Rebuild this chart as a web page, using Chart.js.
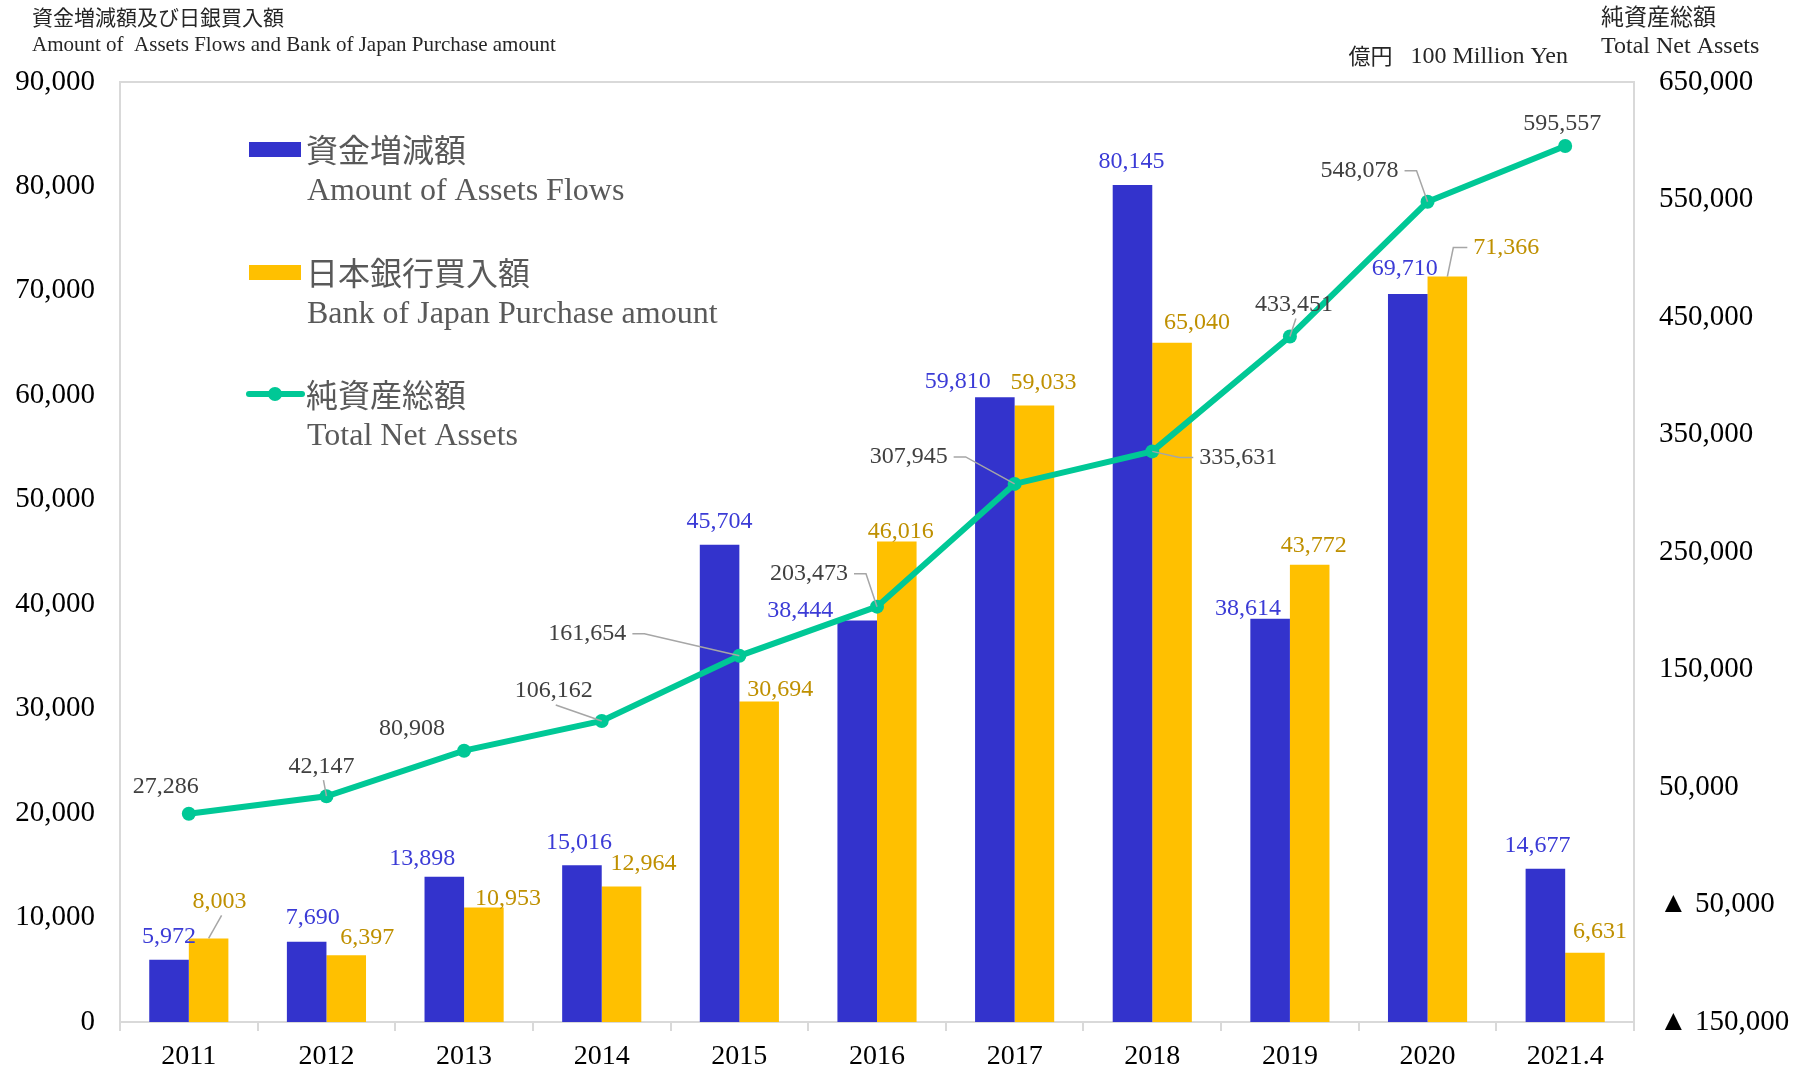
<!DOCTYPE html>
<html>
<head>
<meta charset="utf-8">
<script src="https://cdn.jsdelivr.net/npm/chart.js@4.4.1/dist/chart.umd.min.js"></script>
<style>
  html, body { margin: 0; padding: 0; background: #fff; }
  #wrap { width: 1805px; height: 1072px; }
</style>
</head>
<body>
<div id="wrap"><canvas id="chart" width="1805" height="1072"></canvas></div>
<script>
// data (100 million yen)
const categories = ['2011', '2012', '2013', '2014', '2015', '2016', '2017', '2018', '2019', '2020', '2021.4'];
const assetFlows = [5972, 7690, 13898, 15016, 45704, 38444, 59810, 80145, 38614, 69710, 14677];
const bojPurchase = [8003, 6397, 10953, 12964, 30694, 46016, 59033, 65040, 43772, 71366, 6631];
const netAssets = [27286, 42147, 80908, 106162, 161654, 203473, 307945, 335631, 433451, 548078, 595557];

const leftTicks = { min: 0, max: 90000, step: 10000 };
const rightTicks = { min: -150000, max: 650000, step: 100000 };

const SERIF = '"Liberation Serif", "Times New Roman", serif';
const CJK = '"Noto Sans CJK JP", "Noto Sans", sans-serif';
const BLUE = '#3333cc';
const GOLD = '#ffc000';
const GREEN = '#00c896';
const GRID = '#d9d9d9';

// where each value label sits relative to its mark: [dx, dy, leader]
const flowLabelPos = [[0,-25],[6,-26],[-22,-20],[-3,-24],[0,-25],[-57,-12],[-37,-18],[-1,-25],[-22,-12],[-3,-27],[-8,-25]];
const bojLabelPos = [[11,-39,'b'],[21,-19],[24,-11],[22,-25],[21,-14],[4,-12],[9,-25],[25,-22],[4,-21],[59,-31,'l'],[15,-23]];
const netLabelPos = [[-23,-29],[-5,-32,'b'],[-52,-24],[-48,-32,'b'],[-152,-24,'r'],[-68,-35,'r'],[-106,-29,'r'],[86,4,'l'],[4,-34,'b'],[-68,-33,'r'],[-3,-24]];
const LABEL_SHIFT = 2;

const fmt = v => v.toLocaleString('en-US');

function drawLeader(ctx, px, py, lx, ly, w, h, type) {
  ctx.beginPath();
  if (type === 'r') {
    ctx.moveTo(lx + w / 2 + 6, ly);
    ctx.lineTo(lx + w / 2 + 18, ly);
    ctx.lineTo(px, py);
  } else if (type === 'l') {
    ctx.moveTo(px, py);
    ctx.lineTo(lx - w / 2 - 20, ly);
    ctx.lineTo(lx - w / 2 - 6, ly);
  } else {
    ctx.moveTo(lx + 2, ly + h / 2 + 2);
    ctx.lineTo(px, py);
  }
  ctx.stroke();
}

const valueLabels = {
  id: 'valueLabels',
  afterDatasetsDraw(chart) {
    const ctx = chart.ctx;
    const sets = [
      { idx: 1, values: assetFlows, pos: flowLabelPos, color: '#3b3bd6' },
      { idx: 2, values: bojPurchase, pos: bojLabelPos, color: '#bf9000' },
      { idx: 0, values: netAssets, pos: netLabelPos, color: '#404040' }
    ];
    ctx.save();
    ctx.font = '24px ' + SERIF;
    ctx.textAlign = 'center';
    ctx.textBaseline = 'middle';
    ctx.strokeStyle = '#a6a6a6';
    ctx.lineWidth = 1.5;
    sets.forEach(s => {
      const meta = chart.getDatasetMeta(s.idx);
      meta.data.forEach((el, i) => {
        const [dx, dy, leader] = s.pos[i];
        const lx = el.x + dx, ly = el.y + dy + LABEL_SHIFT;
        const text = fmt(s.values[i]);
        if (leader) {
          const w = ctx.measureText(text).width;
          drawLeader(ctx, el.x, el.y, lx, ly, w, 24, leader);
        }
        ctx.fillStyle = s.color;
        ctx.fillText(text, lx, ly);
      });
    });
    ctx.restore();
  }
};

const frameAndText = {
  id: 'frameAndText',
  afterDraw(chart) {
    const ctx = chart.ctx;
    const a = chart.chartArea;
    ctx.save();
    // top edge of the plot frame
    ctx.strokeStyle = GRID;
    ctx.lineWidth = 2;
    ctx.beginPath();
    ctx.moveTo(a.left, a.top);
    ctx.lineTo(a.right, a.top);
    ctx.stroke();

    ctx.textBaseline = 'middle';
    // titles
    ctx.fillStyle = '#262626';
    ctx.textAlign = 'left';
    ctx.font = '21px ' + CJK;
    ctx.fillText('資金増減額及び日銀買入額', 32, 17);
    ctx.font = '21px ' + SERIF;
    ctx.fillText('Amount of  Assets Flows and Bank of Japan Purchase amount', 32, 45);

    ctx.font = '23px ' + CJK;
    ctx.fillText('純資産総額', 1601, 16);
    ctx.font = '24px ' + SERIF;
    ctx.fillText('Total Net Assets', 1601, 47);

    ctx.textAlign = 'right';
    ctx.font = '24px ' + SERIF;
    ctx.fillText('100 Million Yen', 1568, 57);
    const w = ctx.measureText('100 Million Yen').width;
    ctx.font = '22px ' + CJK;
    ctx.fillText('億円', 1568 - w - 18, 56);

    // legend
    ctx.textAlign = 'left';
    ctx.fillStyle = BLUE;
    ctx.fillRect(249, 142, 52, 15);
    ctx.fillStyle = GOLD;
    ctx.fillRect(249, 265, 52, 15);
    ctx.strokeStyle = GREEN;
    ctx.lineWidth = 6;
    ctx.lineCap = 'round';
    ctx.beginPath();
    ctx.moveTo(249, 394);
    ctx.lineTo(302, 394);
    ctx.stroke();
    ctx.fillStyle = GREEN;
    ctx.beginPath();
    ctx.arc(275, 394, 7, 0, Math.PI * 2);
    ctx.fill();

    ctx.fillStyle = '#595959';
    const rows = [
      ['資金増減額', 'Amount of Assets Flows', 150, 192],
      ['日本銀行買入額', 'Bank of Japan Purchase amount', 273, 315],
      ['純資産総額', 'Total Net Assets', 395, 437]
    ];
    rows.forEach(r => {
      ctx.font = '32px ' + CJK;
      ctx.fillText(r[0], 306, r[2]);
      ctx.font = '32px ' + SERIF;
      ctx.fillText(r[1], 307, r[3]);
    });
    ctx.restore();
  }
};

new Chart(document.getElementById('chart'), {
  type: 'bar',
  data: {
    labels: categories,
    datasets: [
      {
        type: 'line',
        label: '純資産総額',
        data: netAssets,
        yAxisID: 'y1',
        borderColor: GREEN,
        backgroundColor: GREEN,
        borderWidth: 6,
        pointRadius: 7,
        pointBorderWidth: 0,
        pointBackgroundColor: GREEN,
        tension: 0,
        order: 0
      },
      {
        label: '資金増減額',
        data: assetFlows,
        yAxisID: 'y',
        backgroundColor: BLUE,
        borderWidth: 0,
        categoryPercentage: 0.575,
        barPercentage: 1.0,
        order: 1
      },
      {
        label: '日本銀行買入額',
        data: bojPurchase,
        yAxisID: 'y',
        backgroundColor: GOLD,
        borderWidth: 0,
        categoryPercentage: 0.575,
        barPercentage: 1.0,
        order: 1
      }
    ]
  },
  options: {
    responsive: false,
    animation: false,
    layout: { padding: { top: 82, left: 0, right: 0, bottom: 0 } },
    plugins: { legend: { display: false }, tooltip: { enabled: false } },
    scales: {
      x: {
        offset: true,
        grid: { display: true, drawOnChartArea: false, drawTicks: true, tickLength: 9, color: GRID, lineWidth: 2 },
        border: { display: true, color: GRID, width: 2 },
        ticks: { color: '#000', font: { family: SERIF, size: 28 }, padding: 9, maxRotation: 0 },
        afterFit: s => { s.height = 50; }
      },
      y: {
        position: 'left',
        min: leftTicks.min,
        max: leftTicks.max,
        grid: { display: false },
        border: { display: true, color: GRID, width: 2 },
        ticks: { stepSize: leftTicks.step, color: '#000', font: { family: SERIF, size: 29 }, padding: 17, callback: v => fmt(v) },
        afterFit: s => { s.width = 120; }
      },
      y1: {
        position: 'right',
        min: rightTicks.min,
        max: rightTicks.max,
        grid: { display: false },
        border: { display: true, color: GRID, width: 2 },
        ticks: {
          stepSize: rightTicks.step, color: '#000', font: { family: SERIF, size: 29 }, padding: 17,
          callback: v => v < 0 ? '▲ ' + fmt(Math.abs(v)) : fmt(v)
        },
        afterFit: s => { s.width = 171; }
      }
    }
  },
  plugins: [valueLabels, frameAndText]
});
</script>
</body>
</html>
